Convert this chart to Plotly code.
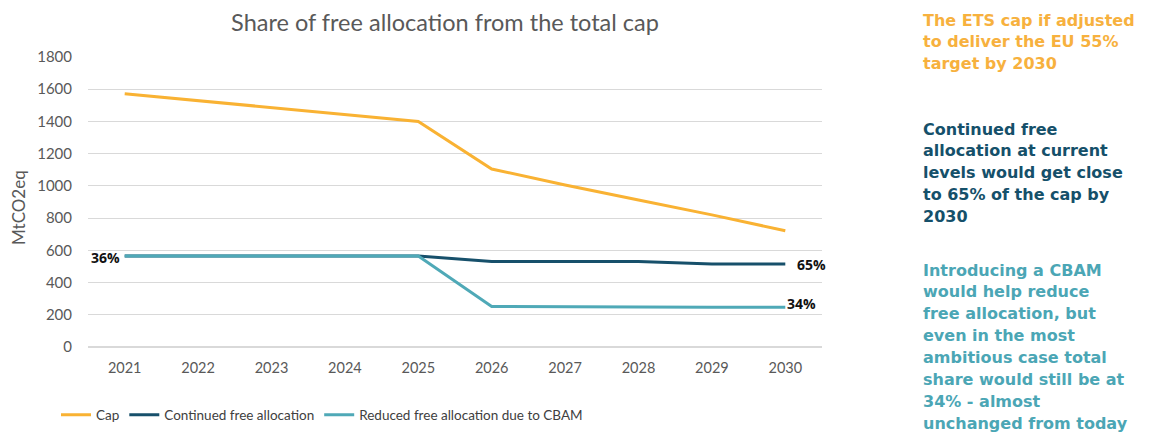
import plotly.graph_objects as go

years = [2021, 2022, 2023, 2024, 2025, 2026, 2027, 2028, 2029, 2030]
cap = [1572, 1530, 1487, 1443, 1400, 1105, 1005, 912, 820, 722]
continued = [565, 565, 565, 565, 565, 530, 530, 530, 515, 515]
reduced = [565, 565, 565, 565, 565, 252, 252, 249, 247, 247]

cap_note = ["The ETS cap if adjusted", "to deliver the EU 55%", "target by 2030"]
cont_note = ["Continued free", "allocation at current", "levels would get close",
             "to 65% of the cap by", "2030"]
cbam_note = ["Introducing a CBAM", "would help reduce", "free allocation, but",
             "even in the most", "ambitious case total", "share would still be at",
             "34% - almost", "unchanged from today"]

colors = {"cap": "#F9B233", "cont": "#17506B", "red": "#4FA9B7"}

# window size and plot-area edges in window pixels
W, H = 1153, 432
L, R, T, B = 88, 822, 57, 347
# the page body has an 8px margin, so the figure starts at (8, 8)
OX, OY = 8, 8
FW, FH = W - OX, H - OY


def px_x(x):
    return (x - L) / (R - L)


def px_y(y):
    return (B - y) / (B - T)


fig = go.Figure()
fig.add_trace(go.Scatter(x=years, y=cap, mode="lines", name="Cap",
                         line=dict(color=colors["cap"], width=3)))
fig.add_trace(go.Scatter(x=years, y=continued, mode="lines", name="Continued free allocation",
                         line=dict(color=colors["cont"], width=3)))
fig.add_trace(go.Scatter(x=years, y=reduced, mode="lines", name="Reduced free allocation due to CBAM",
                         line=dict(color=colors["red"], width=3)))

ann = [
    dict(x=years[0], y=continued[0], text="<b>36%</b>", xanchor="right", xshift=-3, yshift=-2),
    dict(x=years[-1], y=continued[-1], text="<b>65%</b>", xanchor="left", xshift=10, yshift=0),
    dict(x=years[-1], y=reduced[-1], text="<b>34%</b>", xanchor="left", xshift=0, yshift=4),
]
for a in ann:
    fig.add_annotation(xref="x", yref="y", showarrow=False, yanchor="middle",
                       font=dict(family="Open Sans", size=14, color="#111111"), **a)

# y axis title
fig.add_annotation(xref="paper", yref="paper", x=px_x(18), y=px_y(208), text="MtCO2eq",
                   textangle=-90, showarrow=False, xanchor="center", yanchor="middle",
                   font=dict(family="Lato", size=17, color="#595959"))

# side notes, one annotation per line to keep the line pitch
pitch = 21.9
for lines, col, first in [(cap_note, "#F7B13E", 20), (cont_note, "#15506A", 129),
                          (cbam_note, "#4BA6B5", 270)]:
    for i, line in enumerate(lines):
        fig.add_annotation(xref="paper", yref="paper", x=px_x(921), y=px_y(first + i * pitch),
                           xanchor="left", yanchor="middle", showarrow=False,
                           text="<b>" + line + "</b>",
                           font=dict(family="DejaVu Sans", size=16, color=col))

fig.update_layout(
    width=FW, height=FH,
    margin=dict(l=L - OX, r=W - R, t=T - OY, b=H - B, autoexpand=False),
    paper_bgcolor="white", plot_bgcolor="white",
    title=dict(text="Share of free allocation from the total cap",
               x=(445 - OX) / FW, xanchor="center",
               y=1 - (23 - OY) / FH, yanchor="middle",
               font=dict(family="Lato", size=23.5, color="#595959")),
    font=dict(family="Lato", color="#595959", size=15),
    showlegend=True,
    legend=dict(orientation="h", x=px_x(56), xanchor="left", y=px_y(415), yanchor="middle",
                font=dict(size=13.5, color="#404040"), itemwidth=30),
)
fig.update_xaxes(range=[2020.5, 2030.5], tickvals=years, showgrid=False, showline=False,
                 zeroline=False, ticks="", tickfont=dict(size=14.5),
                 ticklabelstandoff=10, automargin=False)
fig.update_yaxes(range=[0, 1800], dtick=200, gridcolor="#D9D9D9", gridwidth=1,
                 zeroline=True, zerolinecolor="#D9D9D9", showline=False,
                 ticks="", tickfont=dict(size=15), ticklabelstandoff=15, automargin=False)

fig.write_html("out.html")
